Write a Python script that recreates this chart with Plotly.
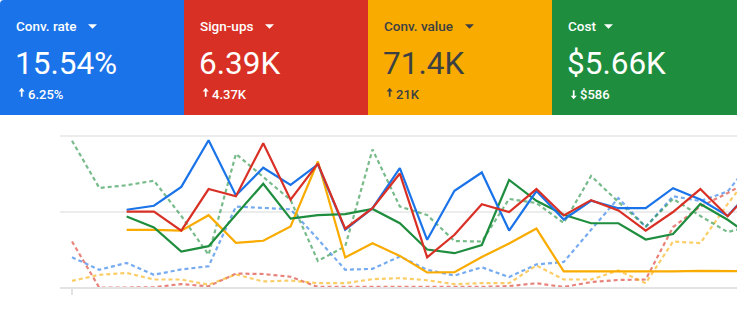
import plotly.graph_objects as go

# ---------------- data (normalised 0-100 scale) ----------------
days = list(range(26))

tile_titles = ["Conv. rate", "Sign-ups", "Conv. value", "Cost"]
tile_values = ["15.54%", "6.39K", "71.4K", "$5.66K"]
tile_deltas = ["6.25%", "4.37K", "21K", "$586"]
tile_delta_up = [True, True, True, False]

# current period (solid)
conv_rate = [None, None, 51.3, 53.9, 66.3, 97.0, 60.7, 78.9, 67.6, 81.1, 38.1, 52.3, 78.6,
             31.5, 63.8, 75.8, 37.6, 63.6, 44.9, 57.2, 52.3, 52.3, 65.5, 58.0, 47.2, 66.9]
sign_ups = [None, None, 50.0, 50.0, 37.5, 64.9, 60.2, 95.1, 57.9, 81.6, 38.8, 52.3, 75.1,
            20.0, 34.8, 54.9, 49.8, 64.9, 47.5, 57.6, 50.8, 37.6, 49.8, 64.9, 47.0, 66.3]
conv_value = [None, None, 38.1, 38.1, 37.5, 47.7, 29.5, 30.9, 40.3, 83.0, 19.9, 29.3, 20.9,
              10.0, 10.2, 20.2, 29.1, 38.9, 10.7, 10.7, 10.5, 10.5, 10.7, 11.1, 10.8, 10.9]
cost = [None, None, 46.8, 39.6, 23.8, 27.3, 48.0, 68.4, 45.4, 47.7, 48.4, 51.8, 42.4,
        25.1, 22.7, 28.1, 70.9, 57.2, 48.0, 42.4, 42.4, 31.7, 35.3, 55.1, 44.7, 32.0]

# previous period (dashed)
conv_rate_prev = [20.0, 11.8, 16.3, 8.5, 12.0, 14.1, 53.4, 52.4, 51.6, 32.0, 11.8, 12.4, 20.5,
                  11.8, 8.0, 13.4, 7.0, 15.3, 16.9, 38.1, 59.0, 39.9, 60.2, 57.0, 63.3, 86.0]
sign_ups_prev = [30.4, 0.0, 0.1, 0.3, 2.4, 0.9, 9.3, 9.0, 7.2, 0.5, 0.5, 0.5, 0.5,
                 0.3, 0.3, 0.5, 1.1, 2.9, 0.5, 3.7, 5.1, 5.4, 39.9, 53.4, 62.3, 72.2]
conv_value_prev = [4.5, 8.5, 9.7, 5.4, 5.4, 2.0, 8.7, 4.1, 4.7, 3.0, 3.0, 5.6, 6.3,
                   4.9, 2.3, 3.0, 3.0, 14.6, 5.4, 5.4, 11.3, 3.0, 30.4, 29.3, 55.1, 78.8]
cost_prev = [96.7, 65.6, 67.4, 70.4, 47.2, 21.7, 88.0, 72.8, 57.7, 17.6, 27.2, 90.9, 53.4,
             47.8, 30.7, 30.4, 58.4, 55.7, 42.6, 73.5, 56.4, 40.3, 58.4, 47.2, 36.6, 41.3]

grid_values = [0, 50, 100]

# ---------------- layout constants ----------------
W, H = 737, 328
ML, MR, MT, MB = 60, 0, 130, 31
X0_PX, STEP_PX = 72.0, 27.32          # pixel position of first day and day spacing
Y0_PX, Y100_PX = 287.7, 135.7          # pixel position of value 0 and value 100
PX_PER_UNIT = (Y0_PX - Y100_PX) / 100.0

x_lo = (ML - X0_PX) / STEP_PX
x_hi = (W - MR - X0_PX) / STEP_PX
y_hi = 100 + (Y100_PX - MT) / PX_PER_UNIT
y_lo = -((H - MB) - Y0_PX) / PX_PER_UNIT

PW = W - ML - MR
PH = H - MT - MB


def xp(px):
    return (px - ML) / PW


def yp(py):
    return (H - MB - py) / PH


tile_colors = ["#1a73e8", "#d93025", "#f9ab00", "#1e8e3e"]
tile_text_colors = ["#ffffff", "#ffffff", "#3c4043", "#ffffff"]
tile_edges = [0, 184, 368, 552, 737]
tile_h = 115
caret_offsets = [88, 81, 97, 52]

fig = go.Figure()

prev_series = [conv_rate_prev, sign_ups_prev, conv_value_prev, cost_prev]
prev_colors = ["rgba(26,115,232,0.6)", "rgba(217,48,37,0.6)",
               "rgba(249,171,0,0.6)", "rgba(30,142,62,0.6)"]
for s, c in zip(prev_series, prev_colors):
    fig.add_trace(go.Scatter(x=days, y=s, mode="lines",
                             line=dict(color=c, width=2.2, dash="4px,3px"),
                             hoverinfo="skip", showlegend=False))

cur_series = [conv_value, cost, conv_rate, sign_ups]
cur_colors = ["#f9ab00", "#1e8e3e", "#1a73e8", "#d93025"]
for s, c in zip(cur_series, cur_colors):
    fig.add_trace(go.Scatter(x=days, y=s, mode="lines",
                             line=dict(color=c, width=2.2),
                             hoverinfo="skip", showlegend=False, connectgaps=False))

shapes = []
annotations = []
for k in range(4):
    xa, xb = tile_edges[k], tile_edges[k + 1]
    if k == 0:
        r = 4
        path = (f"M {xp(xa)},{yp(tile_h)} L {xp(xa)},{yp(r)} Q {xp(xa)},{yp(0)} {xp(xa + r)},{yp(0)} "
                f"L {xp(xb)},{yp(0)} L {xp(xb)},{yp(tile_h)} Z")
    else:
        path = (f"M {xp(xa)},{yp(tile_h)} L {xp(xa)},{yp(0)} "
                f"L {xp(xb)},{yp(0)} L {xp(xb)},{yp(tile_h)} Z")
    shapes.append(dict(type="path", xref="paper", yref="paper", path=path,
                       fillcolor=tile_colors[k], line=dict(width=0), layer="above"))
    tc = tile_text_colors[k]
    # caret
    cx = xa + caret_offsets[k]
    shapes.append(dict(type="path", xref="paper", yref="paper",
                       path=f"M {xp(cx)},{yp(24.2)} L {xp(cx + 9)},{yp(24.2)} L {xp(cx + 4.5)},{yp(28.8)} Z",
                       fillcolor=tc, line=dict(width=0), layer="above"))
    # small arrow
    ax = xa + 21.7
    hw, sw, hh = 3.0, 0.85, 3.6
    if tile_delta_up[k]:
        ya, yb = 87.8, 96.8
        path = (f"M {xp(ax - hw)},{yp(ya + hh)} L {xp(ax)},{yp(ya)} L {xp(ax + hw)},{yp(ya + hh)} "
                f"L {xp(ax + sw)},{yp(ya + hh)} L {xp(ax + sw)},{yp(yb)} L {xp(ax - sw)},{yp(yb)} "
                f"L {xp(ax - sw)},{yp(ya + hh)} Z")
    else:
        ya, yb = 90.3, 99.3
        path = (f"M {xp(ax - hw)},{yp(yb - hh)} L {xp(ax)},{yp(yb)} L {xp(ax + hw)},{yp(yb - hh)} "
                f"L {xp(ax + sw)},{yp(yb - hh)} L {xp(ax + sw)},{yp(ya)} L {xp(ax - sw)},{yp(ya)} "
                f"L {xp(ax - sw)},{yp(yb - hh)} Z")
    shapes.append(dict(type="path", xref="paper", yref="paper", path=path,
                       fillcolor=tc, line=dict(width=0), layer="above"))

    annotations.append(dict(xref="paper", yref="paper", x=xp(xa + 13.6), y=yp(26.2),
                            xanchor="left", yanchor="middle", showarrow=False,
                            text=tile_titles[k],
                            font=dict(family="Roboto", size=13.5, color=tc, weight=500)))
    annotations.append(dict(xref="paper", yref="paper", x=xp(xa + 12.6), y=yp(63.8),
                            xanchor="left", yanchor="middle", showarrow=False,
                            text=tile_values[k],
                            font=dict(family="Roboto", size=31.5, color=tc, weight=400)))
    annotations.append(dict(xref="paper", yref="paper", x=xp(xa + 25.6), y=yp(94.3),
                            xanchor="left", yanchor="middle", showarrow=False,
                            text=tile_deltas[k],
                            font=dict(family="Roboto", size=13, color=tc, weight=500)))

fig.update_layout(
    width=W, height=H, autosize=False,
    margin=dict(l=ML, r=MR, t=MT, b=MB, pad=0),
    paper_bgcolor="white", plot_bgcolor="white",
    shapes=shapes, annotations=annotations,
    xaxis=dict(range=[x_lo, x_hi], showgrid=False, zeroline=False,
               anchor="free", position=(0 - y_lo) / (y_hi - y_lo),
               showline=True, linecolor="#e3e3e3", linewidth=2,
               ticks="outside", tickvals=[0], ticklen=6, tickwidth=1.5, tickcolor="#e3e3e3",
               showticklabels=False, fixedrange=True),
    yaxis=dict(range=[y_lo, y_hi], tickvals=grid_values, showticklabels=False,
               showgrid=True, gridcolor="#ececec", gridwidth=2, zeroline=False,
               ticks="", fixedrange=True),
)

fig.write_html("out.html", config={"displayModeBar": False})
